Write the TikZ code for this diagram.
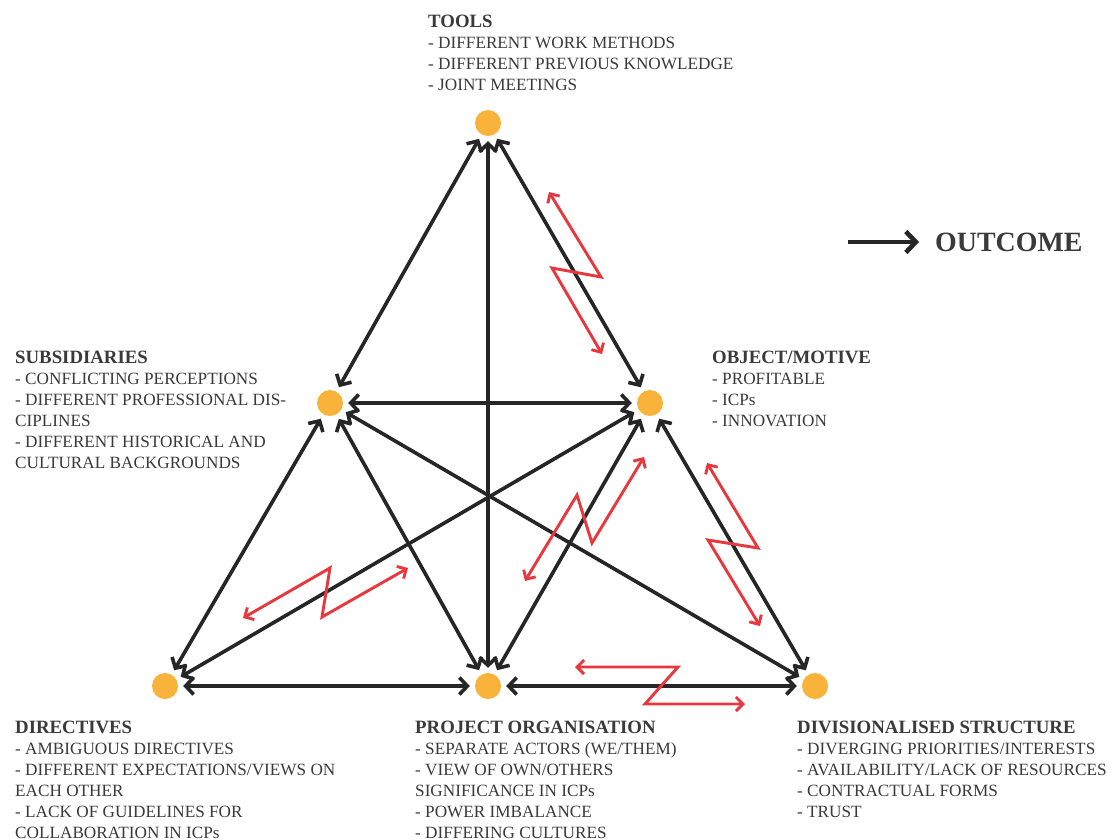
\documentclass[tikz,border=0pt]{standalone}
\usepackage{fontspec}
\setmainfont{Liberation Serif}
\usetikzlibrary{arrows.meta}
\definecolor{dotfill}{HTML}{F9B23A}
\definecolor{linkgrey}{HTML}{262626}
\definecolor{clashred}{HTML}{E8383D}
\definecolor{txt}{HTML}{3A3A3A}
\newcommand{\hd}[1]{{\fontsize{18.8}{21}\selectfont\bfseries #1}}
\begin{document}
\begin{tikzpicture}[x=1pt,y=-1pt,
  dot/.style={circle, fill=dotfill, minimum size=26pt, inner sep=0pt},
  link/.style={draw=linkgrey, line width=3.6pt,
    {Straight Barb[length=8pt,width=17pt]}-{Straight Barb[length=8pt,width=17pt]},
    shorten <=5pt, shorten >=5pt},
  clasharrow/.style={draw=clashred, line width=2.9pt,
    {Straight Barb[length=7pt,width=14pt]}-{Straight Barb[length=7pt,width=14pt]}},
  block/.style={anchor=base west, align=left, inner sep=0pt, text=txt,
    font=\fontsize{17.2}{21}\selectfont}]
\useasboundingbox[fill=white] (0,0) rectangle (1112,839);

% activity system elements
\node[dot] (tools) at (488,123) {};
\node[dot] (subs)  at (330,403) {};
\node[dot] (obj)   at (650,403) {};
\node[dot] (dir)   at (165,686) {};
\node[dot] (proj)  at (488,686) {};
\node[dot] (div)   at (815,686) {};

% mediating relations
\draw[link] (tools) -- (subs);
\draw[link] (tools) -- (obj);
\draw[link] (tools) -- (proj);
\draw[link] (subs) -- (obj);
\draw[link] (subs) -- (dir);
\draw[link] (subs) -- (proj);
\draw[link] (subs) -- (div);
\draw[link] (obj) -- (dir);
\draw[link] (obj) -- (proj);
\draw[link] (obj) -- (div);
\draw[link] (dir) -- (proj);
\draw[link] (proj) -- (div);

% contradictions (zigzag arrows)
\coordinate (a1) at (549,192); \coordinate (a2) at (601,277);
\coordinate (a3) at (552,268); \coordinate (a4) at (602,354);
\draw[clasharrow] (a1) -- (a2) -- (a3) -- (a4);

\coordinate (b1) at (243,618); \coordinate (b2) at (330,568);
\coordinate (b3) at (322,617); \coordinate (b4) at (408,568);
\draw[clasharrow] (b1) -- (b2) -- (b3) -- (b4);

\coordinate (c1) at (525,581); \coordinate (c2) at (577,495);
\coordinate (c3) at (592,543); \coordinate (c4) at (644,457);
\draw[clasharrow] (c1) -- (c2) -- (c3) -- (c4);

\coordinate (d1) at (707,463); \coordinate (d2) at (758,548);
\coordinate (d3) at (708,540); \coordinate (d4) at (760,626);
\draw[clasharrow] (d1) -- (d2) -- (d3) -- (d4);

\coordinate (e1) at (575,667); \coordinate (e2) at (678,667);
\coordinate (e3) at (645,704); \coordinate (e4) at (745,704);
\draw[clasharrow] (e1) -- (e2) -- (e3) -- (e4);

% outcome legend
\node[anchor=west, inner sep=0pt, text=txt, font=\fontsize{27.9}{30}\selectfont\bfseries]
  (outcome) at (935,242) {OUTCOME};
\coordinate (ostart) at (848,242);
\draw[draw=linkgrey, line width=4.6pt, -{Straight Barb[length=10pt,width=21pt]},
  shorten >=16pt] (ostart) -- (outcome.west);

% element descriptions (anchored at the baseline of their last line)
\node[block] (ttools) at (428,90) {\hd{TOOLS}\\
- DIFFERENT WORK METHODS\\
- DIFFERENT PREVIOUS KNOWLEDGE\\
- JOINT MEETINGS};

\node[block] (tsubs) at (15,468) {\hd{SUBSIDIARIES}\\
- CONFLICTING PERCEPTIONS\\
- DIFFERENT PROFESSIONAL DIS-\\
CIPLINES\\
- DIFFERENT HISTORICAL AND\\
CULTURAL BACKGROUNDS};

\node[block] (tobj) at (712,426) {\hd{OBJECT/MOTIVE}\\
- PROFITABLE\\
- ICPs\\
- INNOVATION};

\node[block] (tdir) at (15,838) {\hd{DIRECTIVES}\\
- AMBIGUOUS DIRECTIVES\\
- DIFFERENT EXPECTATIONS/VIEWS ON\\
EACH OTHER\\
- LACK OF GUIDELINES FOR\\
COLLABORATION IN ICPs};

\node[block] (tproj) at (415,838) {\hd{PROJECT ORGANISATION}\\
- SEPARATE ACTORS (WE/THEM)\\
- VIEW OF OWN/OTHERS\\
SIGNIFICANCE IN ICPs\\
- POWER IMBALANCE\\
- DIFFERING CULTURES};

\node[block] (tdiv) at (797,817) {\hd{DIVISIONALISED STRUCTURE}\\
- DIVERGING PRIORITIES/INTERESTS\\
- AVAILABILITY/LACK OF RESOURCES\\
- CONTRACTUAL FORMS\\
- TRUST};
\end{tikzpicture}
\end{document}
